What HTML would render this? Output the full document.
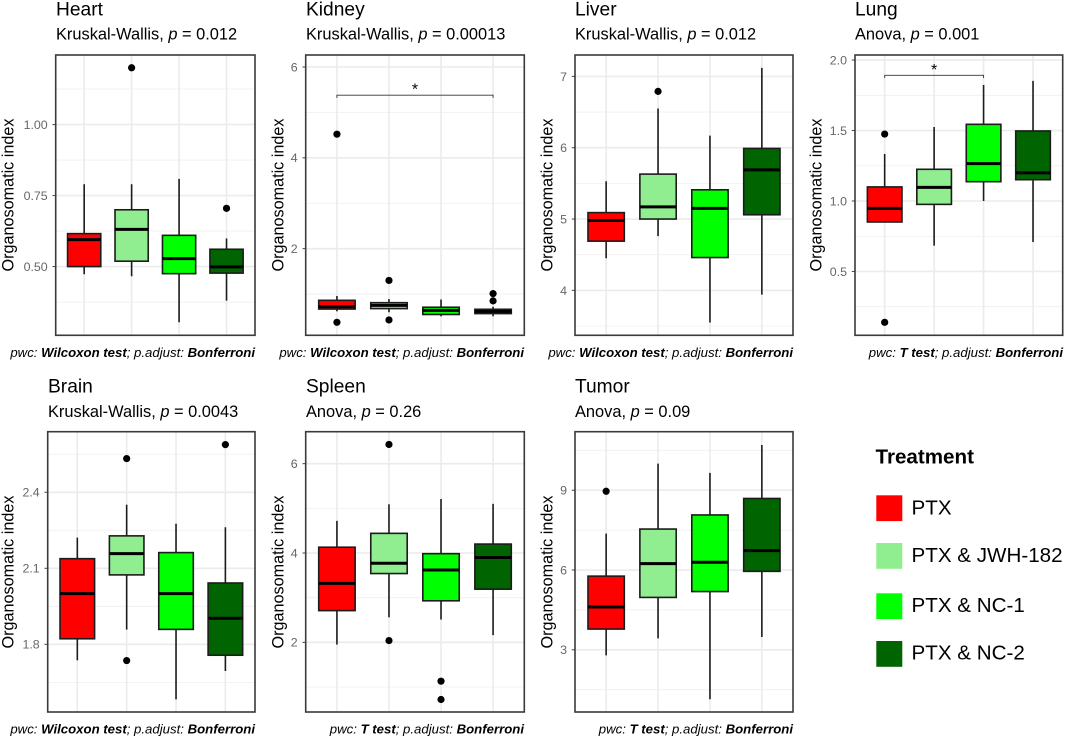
<!DOCTYPE html>
<html lang="en">
<head>
<meta charset="utf-8">
<title>Organosomatic index by treatment</title>
<style>
html,body{margin:0;padding:0;background:#fff;}
svg{display:block;font-family:"Liberation Sans",Arial,sans-serif;}
.title{font-size:19.2px;fill:#000;}
.sub{font-size:16.4px;fill:#000;}
.cap{font-size:13.2px;font-style:italic;fill:#000;text-anchor:end;}
.cap .b{font-weight:bold;}
.yt{font-size:16.2px;fill:#000;text-anchor:middle;}
.lt{font-size:20.6px;font-weight:bold;fill:#000;}
.ll{font-size:20.6px;fill:#000;}
.tick{font-size:12.4px;fill:#666;text-anchor:end;}
</style>
</head>
<body>
<svg id="chart" width="1065" height="738" viewBox="0 0 1065 738" xmlns="http://www.w3.org/2000/svg">
  <rect width="1065" height="738" fill="#fff"/>

  <g>
    <text class="title" x="56" y="15.5">Heart</text>
    <text class="sub" x="56" y="39.5">Kruskal-Wallis, <tspan font-style="italic">p</tspan> = 0.012</text>
    <g id="heart-plot"></g>
    <text class="yt" transform="translate(13.5,195) rotate(-90)">Organosomatic index</text>
    <text class="cap" x="255" y="357">pwc: <tspan class="b">Wilcoxon test</tspan>; p.adjust: <tspan class="b">Bonferroni</tspan></text>
  </g>

  <g>
    <text class="title" x="306" y="15.5">Kidney</text>
    <text class="sub" x="306" y="39.5">Kruskal-Wallis, <tspan font-style="italic">p</tspan> = 0.00013</text>
    <g id="kidney-plot"></g>
    <text class="yt" transform="translate(283.5,195) rotate(-90)">Organosomatic index</text>
    <text class="cap" x="524" y="357">pwc: <tspan class="b">Wilcoxon test</tspan>; p.adjust: <tspan class="b">Bonferroni</tspan></text>
  </g>

  <g>
    <text class="title" x="575" y="15.5">Liver</text>
    <text class="sub" x="575" y="39.5">Kruskal-Wallis, <tspan font-style="italic">p</tspan> = 0.012</text>
    <g id="liver-plot"></g>
    <text class="yt" transform="translate(552.5,195) rotate(-90)">Organosomatic index</text>
    <text class="cap" x="793" y="357">pwc: <tspan class="b">Wilcoxon test</tspan>; p.adjust: <tspan class="b">Bonferroni</tspan></text>
  </g>

  <g>
    <text class="title" x="855" y="15.5">Lung</text>
    <text class="sub" x="855" y="39.5">Anova, <tspan font-style="italic">p</tspan> = 0.001</text>
    <g id="lung-plot"></g>
    <text class="yt" transform="translate(821.5,195) rotate(-90)">Organosomatic index</text>
    <text class="cap" x="1063" y="357">pwc: <tspan class="b">T test</tspan>; p.adjust: <tspan class="b">Bonferroni</tspan></text>
  </g>

  <g>
    <text class="title" x="48" y="392.7">Brain</text>
    <text class="sub" x="48" y="417">Kruskal-Wallis, <tspan font-style="italic">p</tspan> = 0.0043</text>
    <g id="brain-plot"></g>
    <text class="yt" transform="translate(13.5,572) rotate(-90)">Organosomatic index</text>
    <text class="cap" x="255" y="733.5">pwc: <tspan class="b">Wilcoxon test</tspan>; p.adjust: <tspan class="b">Bonferroni</tspan></text>
  </g>

  <g>
    <text class="title" x="306" y="392.7">Spleen</text>
    <text class="sub" x="306" y="417">Anova, <tspan font-style="italic">p</tspan> = 0.26</text>
    <g id="spleen-plot"></g>
    <text class="yt" transform="translate(283.5,572) rotate(-90)">Organosomatic index</text>
    <text class="cap" x="524" y="733.5">pwc: <tspan class="b">T test</tspan>; p.adjust: <tspan class="b">Bonferroni</tspan></text>
  </g>

  <g>
    <text class="title" x="575" y="392.7">Tumor</text>
    <text class="sub" x="575" y="417">Anova, <tspan font-style="italic">p</tspan> = 0.09</text>
    <g id="tumor-plot"></g>
    <text class="yt" transform="translate(552.5,572) rotate(-90)">Organosomatic index</text>
    <text class="cap" x="793" y="733.5">pwc: <tspan class="b">T test</tspan>; p.adjust: <tspan class="b">Bonferroni</tspan></text>
  </g>

  <g>
    <text class="lt" x="875.5" y="463.3">Treatment</text>
    <g>
      <rect x="876.3" y="495.3" width="26" height="25.8" fill="#ff0000"/>
      <text class="ll" x="911.5" y="514.5">PTX</text>
    </g>
    <g>
      <rect x="876.3" y="543" width="26" height="25.8" fill="#90ee90"/>
      <text class="ll" x="911.5" y="562">PTX &amp; JWH-182</text>
    </g>
    <g>
      <rect x="876.3" y="593.3" width="26" height="25.8" fill="#00ff00"/>
      <text class="ll" x="911.5" y="612">PTX &amp; NC-1</text>
    </g>
    <g>
      <rect x="876.3" y="641" width="26" height="25.8" fill="#006400"/>
      <text class="ll" x="911.5" y="659.5">PTX &amp; NC-2</text>
    </g>
  </g>
</svg>

<script>
// ---------- categories ----------
const treatments = ["PTX", "PTX & JWH-182", "PTX & NC-1", "PTX & NC-2"];

// ---------- Heart ----------
const heartTicks = ["0.50", "0.75", "1.00"];
const heartDomain = [0.258, 1.245];
const heartLower = [0.473, 0.466, 0.304, 0.38];
const heartQ1 = [0.50, 0.519, 0.475, 0.477];
const heartMedian = [0.595, 0.631, 0.528, 0.499];
const heartQ3 = [0.616, 0.70, 0.61, 0.561];
const heartUpper = [0.79, 0.79, 0.809, 0.599];
const heartOutliers = [[], [1.20], [], [0.705]];

// ---------- Kidney ----------
const kidneyTicks = ["2", "4", "6"];
const kidneyDomain = [0.092, 6.264];
const kidneyLower = [0.62, 0.60, 0.51, 0.51];
const kidneyQ1 = [0.67, 0.68, 0.55, 0.57];
const kidneyMedian = [0.72, 0.75, 0.64, 0.62];
const kidneyQ3 = [0.862, 0.81, 0.71, 0.665];
const kidneyUpper = [0.958, 0.89, 0.88, 0.72];
const kidneyOutliers = [[4.52, 0.378], [1.30, 0.43], [], [1.01, 0.85]];
const kidneyBracket = [0, 3, 5.38];

// ---------- Liver ----------
const liverTicks = ["4", "5", "6", "7"];
const liverDomain = [3.37, 7.30];
const liverLower = [4.45, 4.76, 3.55, 3.94];
const liverQ1 = [4.69, 5.0, 4.46, 5.06];
const liverMedian = [4.98, 5.17, 5.15, 5.69];
const liverQ3 = [5.09, 5.63, 5.41, 5.99];
const liverUpper = [5.53, 6.55, 6.17, 7.12];
const liverOutliers = [[], [6.79], [], []];

// ---------- Lung ----------
const lungTicks = ["0.5", "1.0", "1.5", "2.0"];
const lungDomain = [0.047, 2.036];
const lungLower = [0.851, 0.683, 1.0, 0.709];
const lungQ1 = [0.851, 0.976, 1.137, 1.151];
const lungMedian = [0.948, 1.097, 1.265, 1.20];
const lungQ3 = [1.10, 1.225, 1.544, 1.497];
const lungUpper = [1.334, 1.525, 1.823, 1.852];
const lungOutliers = [[1.475, 0.139], [], [], []];
const lungBracket = [0, 2, 1.892];

// ---------- Brain ----------
const brainTicks = ["1.8", "2.1", "2.4"];
const brainDomain = [1.533, 2.639];
const brainLower = [1.737, 1.858, 1.583, 1.695];
const brainQ1 = [1.822, 2.074, 1.859, 1.757];
const brainMedian = [2.0, 2.158, 2.0, 1.903];
const brainQ3 = [2.138, 2.228, 2.162, 2.042];
const brainUpper = [2.221, 2.351, 2.276, 2.262];
const brainOutliers = [[], [2.533, 1.736], [], [2.588]];

// ---------- Spleen ----------
const spleenTicks = ["2", "4", "6"];
const spleenDomain = [0.44, 6.716];
const spleenLower = [1.95, 2.56, 2.51, 2.16];
const spleenQ1 = [2.71, 3.54, 2.93, 3.19];
const spleenMedian = [3.32, 3.77, 3.62, 3.90];
const spleenQ3 = [4.13, 4.44, 3.985, 4.20];
const spleenUpper = [4.72, 5.09, 5.21, 5.10];
const spleenOutliers = [[], [6.43, 2.04], [1.13, 0.72], []];

// ---------- Tumor ----------
const tumorTicks = ["3", "6", "9"];
const tumorDomain = [0.662, 11.2];
const tumorLower = [2.79, 3.43, 1.14, 3.48];
const tumorQ1 = [3.78, 4.97, 5.19, 5.95];
const tumorMedian = [4.61, 6.24, 6.29, 6.73];
const tumorQ3 = [5.77, 7.54, 8.07, 8.69];
const tumorUpper = [7.37, 10.0, 9.65, 10.7];
const tumorOutliers = [[8.96], [], [], []];

// ---------- styling ----------
const treatmentColors = ["#ff0000", "#90ee90", "#00ff00", "#006400"];
const SVGNS = "http://www.w3.org/2000/svg";

function make(parent, tag, attrs) {
  const el = document.createElementNS(SVGNS, tag);
  Object.keys(attrs).forEach(function (k) { el.setAttribute(k, attrs[k]); });
  parent.appendChild(el);
  return el;
}

function drawPanel(p) {
  const g = document.getElementById(p.name + "-plot");
  const L = p.frame[0], R = p.frame[1], T = p.frame[2], B = p.frame[3];
  const y = function (v) { return B - (v - p.domain[0]) / (p.domain[1] - p.domain[0]) * (B - T); };
  const step = (R - L) / 4.2;
  const x = function (i) { return L + (i + 0.6) * step; };
  const boxW = step * 0.7;

  // background
  const bg = make(g, "rect", { x: L, y: T, width: R - L, height: B - T, fill: "#fff" });
  
  

  // minor horizontal grid
  const tv = p.ticks.map(Number);
  const d = tv[1] - tv[0];
  for (let k = -1; k < tv.length; k++) {
    const mv = tv[0] + (k + 0.5) * d;
    if (mv <= p.domain[0] || mv >= p.domain[1]) continue;
    const ml = make(g, "line", { x1: L, x2: R, y1: y(mv), y2: y(mv), stroke: "#efefef", "stroke-width": 0.8 });
    
    
  }
  // major horizontal grid, ticks, labels
  p.ticks.forEach(function (t) {
    const v = Number(t);
    const gl = make(g, "line", { x1: L, x2: R, y1: y(v), y2: y(v), stroke: "#ebebeb", "stroke-width": 1.6 });
    
    
    const tk = make(g, "line", { x1: L - 3.2, x2: L, y1: y(v), y2: y(v), stroke: "#444", "stroke-width": 1 });
    
    
    const lb = make(g, "text", { x: L - 8, y: y(v) + 4.4, class: "tick" });
    lb.textContent = t;
    
    
  });
  // vertical grid
  treatments.forEach(function (c, i) {
    const vg = make(g, "line", { x1: x(i), x2: x(i), y1: T, y2: B, stroke: "#ebebeb", "stroke-width": 1.6 });
    
    
  });

  // boxes
  treatments.forEach(function (c, i) {
    const bx = make(g, "g", {});
    
    

    const wh = make(bx, "line", { x1: x(i), x2: x(i), y1: y(p.upper[i]), y2: y(p.lower[i]), stroke: "#1c1c1c", "stroke-width": 1.6 });
    
    

    const rc = make(bx, "rect", {
      x: x(i) - boxW / 2, y: y(p.q3[i]), width: boxW, height: y(p.q1[i]) - y(p.q3[i]),
      fill: treatmentColors[i], stroke: "#1c1c1c", "stroke-width": 1.6
    });
    
    

    const md = make(bx, "line", { x1: x(i) - boxW / 2, x2: x(i) + boxW / 2, y1: y(p.median[i]), y2: y(p.median[i]), stroke: "#000", "stroke-width": 3 });
    
    

    p.outliers[i].forEach(function (o) {
      const pt = make(bx, "circle", { cx: x(i), cy: y(o), r: 3.6, fill: "#000" });
      
      
    });
  });

  // significance bracket
  if (p.bracket) {
    const by = y(p.bracket[2]);
    const x1 = x(p.bracket[0]), x2 = x(p.bracket[1]);
    const br = make(g, "path", {
      d: "M" + x1 + " " + (by + 2.7) + "V" + by + "H" + x2 + "V" + (by + 2.7),
      fill: "none", stroke: "#333", "stroke-width": 0.9
    });
    
    
    const st = make(g, "text", { x: (x1 + x2) / 2, y: by - 0.5, "text-anchor": "middle", "font-size": 16, fill: "#000" });
    st.textContent = "*";
    
    
  }

  // panel border
  const bd = make(g, "rect", { x: L, y: T, width: R - L, height: B - T, fill: "none", stroke: "#3a3a3a", "stroke-width": 1.6 });
  
  
}

drawPanel({ name: "heart", frame: [55.7, 255, 55, 335.3], ticks: heartTicks, domain: heartDomain, lower: heartLower, q1: heartQ1, median: heartMedian, q3: heartQ3, upper: heartUpper, outliers: heartOutliers });
drawPanel({ name: "kidney", frame: [305.7, 524.3, 55, 335.3], ticks: kidneyTicks, domain: kidneyDomain, lower: kidneyLower, q1: kidneyQ1, median: kidneyMedian, q3: kidneyQ3, upper: kidneyUpper, outliers: kidneyOutliers, bracket: kidneyBracket });
drawPanel({ name: "liver", frame: [575, 793, 55, 335.3], ticks: liverTicks, domain: liverDomain, lower: liverLower, q1: liverQ1, median: liverMedian, q3: liverQ3, upper: liverUpper, outliers: liverOutliers });
drawPanel({ name: "lung", frame: [855, 1062.7, 55, 335.3], ticks: lungTicks, domain: lungDomain, lower: lungLower, q1: lungQ1, median: lungMedian, q3: lungQ3, upper: lungUpper, outliers: lungOutliers, bracket: lungBracket });
drawPanel({ name: "brain", frame: [47.7, 255, 431.7, 712], ticks: brainTicks, domain: brainDomain, lower: brainLower, q1: brainQ1, median: brainMedian, q3: brainQ3, upper: brainUpper, outliers: brainOutliers });
drawPanel({ name: "spleen", frame: [305.7, 524.3, 431.7, 712], ticks: spleenTicks, domain: spleenDomain, lower: spleenLower, q1: spleenQ1, median: spleenMedian, q3: spleenQ3, upper: spleenUpper, outliers: spleenOutliers });
drawPanel({ name: "tumor", frame: [575, 793, 431.7, 712], ticks: tumorTicks, domain: tumorDomain, lower: tumorLower, q1: tumorQ1, median: tumorMedian, q3: tumorQ3, upper: tumorUpper, outliers: tumorOutliers });
</script>
</body>
</html>
